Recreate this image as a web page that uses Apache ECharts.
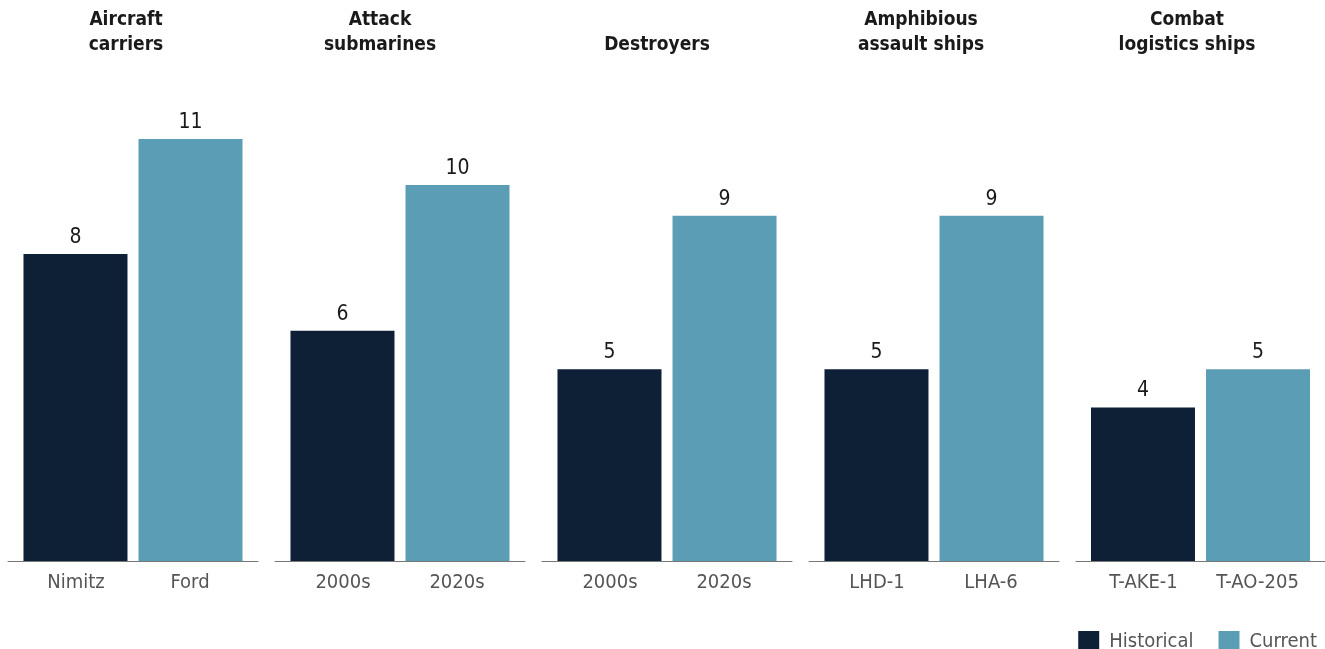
<!DOCTYPE html>
<html><head><meta charset="utf-8">
<script src="https://cdn.jsdelivr.net/npm/echarts@6/dist/echarts.min.js"></script>
<style>html,body{margin:0;padding:0;background:#fff}#c{width:1325px;height:649px}</style>
</head><body><div id="c"></div>
<script>
const panelTitles = ['Aircraft\ncarriers', 'Attack\nsubmarines', 'Destroyers', 'Amphibious\nassault ships', 'Combat\nlogistics ships'];
const classNames = [['Nimitz', 'Ford'], ['2000s', '2020s'], ['2000s', '2020s'], ['LHD-1', 'LHA-6'], ['T-AKE-1', 'T-AO-205']];
const historical = [8, 6, 5, 5, 4];
const current = [11, 9.8, 9, 9, 5];
const seriesNames = ['Historical', 'Current'];

const NARROW = "'Liberation Sans Narrow', 'DejaVu Sans Condensed', Roboto, sans-serif";
const colors = ['#0D2035', '#5B9DB5'];
const titleCenters = [126, 380, 657, 921, 1187];

const grids = [], xAxes = [], yAxes = [], series = [], titles = [];
panelTitles.forEach((t, i) => {
  grids.push({ left: 8 + 267 * i, width: 250, top: 139, bottom: 88 });
  xAxes.push({
    type: 'category', gridIndex: i, data: [t],
    axisLine: { lineStyle: { color: '#777', width: 1 } },
    axisTick: { show: false },
    axisLabel: {
      interval: 0, margin: 12,
      formatter: () => '{a|' + classNames[i][0] + '}{b|' + classNames[i][1] + '}',
      rich: {
        a: { width: 114, align: 'center', fontSize: 20, color: '#555', fontFamily: NARROW },
        b: { width: 114, align: 'center', fontSize: 20, color: '#555', fontFamily: NARROW }
      }
    }
  });
  yAxes.push({ type: 'value', gridIndex: i, min: 0, max: 11, show: false, splitLine: { show: false } });
  [historical, current].forEach((arr, k) => {
    series.push({
      name: seriesNames[k], type: 'bar', xAxisIndex: i, yAxisIndex: i,
      data: [arr[i]], barWidth: 104, barGap: '10.6%',
      itemStyle: { color: colors[k] },
      label: {
        show: true, position: 'top', distance: 6,
        formatter: p => Math.round(p.value),
        fontSize: 21, color: '#1a1a1a', fontFamily: NARROW
      },
      emphasis: { disabled: true }
    });
  });
  const twoLine = t.indexOf('\n') >= 0;
  titles.push({
    text: t, left: titleCenters[i], top: twoLine ? 8 : 33, textAlign: 'center', padding: 0,
    textStyle: { fontSize: 19, fontWeight: 'bold', color: '#1a1a1a', lineHeight: 25, fontFamily: NARROW }
  });
});

const chart = echarts.init(document.getElementById('c'), null, { renderer: 'canvas' });
chart.setOption({
  animation: false,
  title: titles,
  grid: grids,
  xAxis: xAxes,
  yAxis: yAxes,
  series: series,
  legend: {
    data: seriesNames, right: 3, top: 626, itemWidth: 21, itemHeight: 21, itemGap: 25, icon: 'rect',
    textStyle: { fontSize: 20, color: '#555', fontFamily: NARROW, padding: [0, 0, 0, 5] }
  }
});
</script>
</body></html>
